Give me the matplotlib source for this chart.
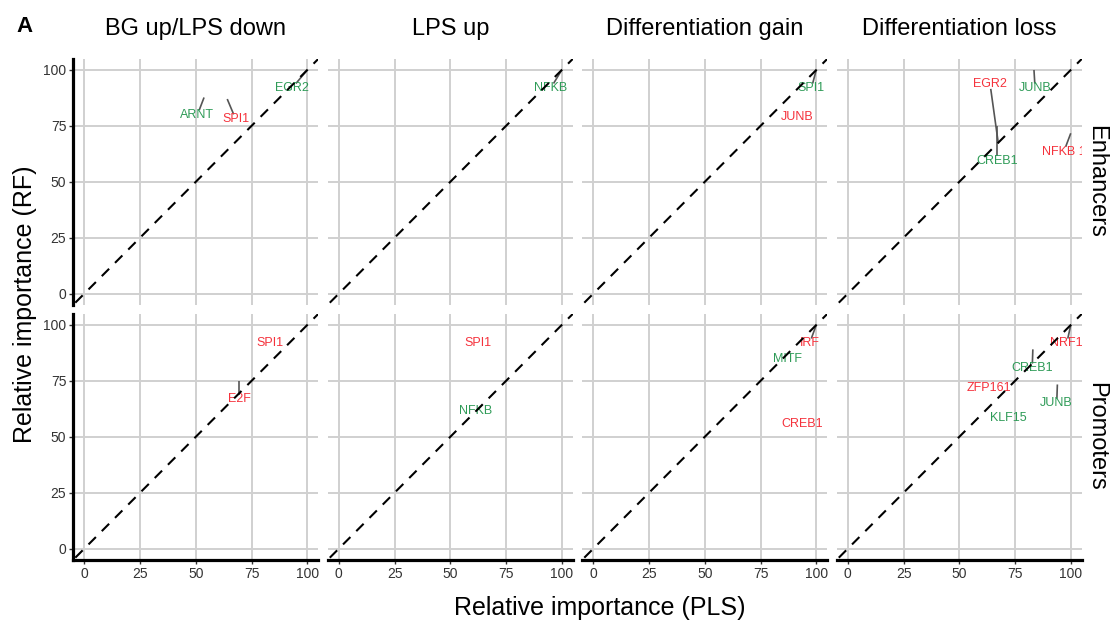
#!/usr/bin/python3
# -*- coding: utf-8 -*-

'''
RF vs PLS relative importance, faceted by region and group
'''

import matplotlib
matplotlib.use('Agg')
import matplotlib.pyplot as plt

plt.rcParams['font.family'] = ['Liberation Sans', 'DejaVu Sans']

REGIONS = ['Enhancers', 'Promoters']
GROUPS = ['BG up/LPS down', 'LPS up', 'Differentiation gain', 'Differentiation loss']
TICKS = [0, 25, 50, 75, 100]

# one entry per labelled motif
tf = ['EGR2', 'ARNT', 'SPI1', 'NFKB', 'SPI1', 'JUNB', 'EGR2', 'CREB1', 'JUNB', 'NFKB 1',
      'SPI1', 'E2F', 'SPI1', 'NFKB', 'IRF', 'MITF', 'CREB1', 'NRF1', 'CREB1', 'ZFP161',
      'JUNB', 'KLF15']
region = [0, 0, 0, 0, 0, 0, 0, 0, 0, 0,
          1, 1, 1, 1, 1, 1, 1, 1, 1, 1, 1, 1]
group = [0, 0, 0, 1, 2, 2, 3, 3, 3, 3,
         0, 0, 1, 1, 2, 2, 2, 3, 3, 3, 3, 3]
pls = [100, 53.7, 64.1, 100, 100, 91.3, 67.5, 67.1, 83.5, 100,
       83.3, 69.5, 62.2, 61.5, 100, 87.3, 93.5, 100, 83.0, 63.2, 94.0, 72.0]
rf = [100, 87.7, 87.0, 100, 100, 79.1, 67.2, 75.0, 100, 71.7,
      91.8, 74.9, 91.8, 61.6, 100, 84.8, 55.7, 100, 89.1, 71.7, 73.4, 58.5]
direction = ['up', 'up', 'down', 'up', 'up', 'down', 'down', 'up', 'up', 'down',
             'down', 'down', 'down', 'up', 'down', 'up', 'down', 'down', 'up', 'down',
             'up', 'up']

# repelled label offsets (layout, data units)
nudge = [(-6.9, -8.2), (-3.0, -7.8), (3.8, -9.0), (-5.0, -8.2), (-2.2, -8.2), (0, 0),
         (-3.7, 26.5), (0, -15.7), (0.5, -8.2), (-3.1, -8.2),
         (0, 0), (0, -8.2), (0, 0), (0, 0), (-3.0, -8.2), (0, 0), (0, 0),
         (-1.8, -8.2), (-0.3, -8.5), (0, 0), (-0.3, -8.5), (0, 0)]

COLORS = {'up': '#2E9B57', 'down': '#F5323C'}

W, H = 1119, 623
fig = plt.figure(figsize=(W / 100, H / 100), dpi=100)

left0, top0 = 73.2, 58.8
pw, ph = 245.2, 246.0
gx, gy = 9.3, 9.0

axes = {}
for r in range(2):
    for c in range(4):
        x0 = left0 + c * (pw + gx)
        y0 = top0 + r * (ph + gy)
        ax = fig.add_axes([x0 / W, 1 - (y0 + ph) / H, pw / W, ph / H])
        ax.set_xlim(-5, 105)
        ax.set_ylim(-5, 105)
        ax.set_xticks(TICKS)
        ax.set_yticks(TICKS)
        ax.grid(True, color='#D0D0D0', lw=1.4, zorder=0)
        ax.set_axisbelow(True)
        for s in ['top', 'right', 'left', 'bottom']:
            ax.spines[s].set_visible(False)
        ax.tick_params(length=3, width=1.0, color='#333333', labelsize=10,
                       labelcolor='#333333', pad=2)
        if c == 0:
            ax.spines['left'].set_visible(True)
            ax.spines['left'].set_linewidth(2.3)
            ax.spines['left'].set_capstyle('projecting')
        else:
            ax.tick_params(axis='y', left=False, labelleft=False)
        if r == 1:
            ax.spines['bottom'].set_visible(True)
            ax.spines['bottom'].set_linewidth(2.3)
            ax.spines['bottom'].set_capstyle('projecting')
        else:
            ax.tick_params(axis='x', bottom=False, labelbottom=False)
        ax.plot([-10, 110], [-10, 110], color='black', lw=1.5,
                linestyle=(0, (5, 4)), zorder=4)
        if r == 0:
            ax.set_title(GROUPS[c], fontsize=17, pad=17)
        if c == 3:
            ax.text(1.0575, 0.5, REGIONS[r], transform=ax.transAxes, rotation=270,
                    fontsize=17, va='center', ha='center')
        axes[(r, c)] = ax

# labels
texts = []
for i, name in enumerate(tf):
    ax = axes[(region[i], group[i])]
    lx = pls[i] + nudge[i][0]
    ly = rf[i] + nudge[i][1]
    t = ax.text(lx, ly, name, color=COLORS[direction[i]], fontsize=9,
                ha='center', va='center', zorder=3, clip_on=True)
    texts.append(t)

# segments from label box edge to point
fig.canvas.draw()
renderer = fig.canvas.get_renderer()
for i, t in enumerate(texts):
    dx, dy = nudge[i]
    if dx == 0 and dy == 0:
        continue
    ax = axes[(region[i], group[i])]
    bb = t.get_window_extent(renderer).transformed(ax.transData.inverted())
    lx, ly = pls[i] + dx, rf[i] + dy
    hw, hh = bb.width / 2, bb.height / 2 * 0.8
    vx, vy = -dx, -dy
    k = min(hw / abs(vx) if vx else 1e9, hh / abs(vy) if vy else 1e9)
    if k >= 1:
        continue
    ax.plot([lx + k * vx, pls[i]], [ly + k * vy, rf[i]], color='#555555',
            lw=1.2, zorder=2, solid_capstyle='butt')

fig.text(24.5 / W, 1 - 26 / H, 'A', fontsize=16, fontweight='bold',
         ha='center', va='center')
fig.text(600 / W, 1 - 608 / H, 'Relative importance (PLS)', fontsize=18,
         ha='center', va='center')
fig.text(25 / W, 1 - 304 / H, 'Relative importance (RF)', fontsize=18,
         ha='center', va='center', rotation=90)

fig.savefig('out.png', dpi=100)
